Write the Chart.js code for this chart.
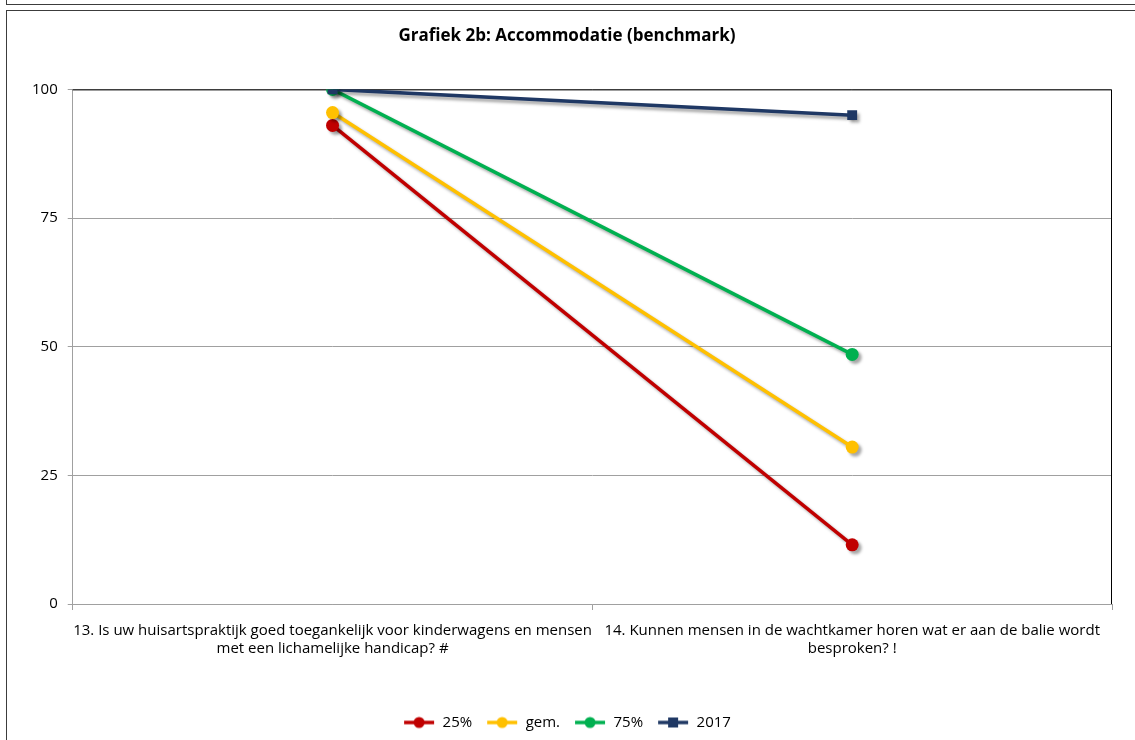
<!DOCTYPE html>
<html>
<head>
<meta charset="utf-8">
<script src="https://cdn.jsdelivr.net/npm/chart.js@4"></script>
<style>
  html, body { margin: 0; padding: 0; background: #fff; }
  #wrap { position: relative; width: 1135px; height: 740px; overflow: hidden; }
  .prev { position: absolute; left: 6px; top: -10px; width: 1200px; height: 14px; border: 1px solid #3c3c3c; border-top: none; }
  .frame { position: absolute; left: 6px; top: 10px; width: 1200px; height: 800px; border: 1px solid #3c3c3c; }
  canvas { position: absolute; left: 0; top: 0; }
</style>
</head>
<body>
<div id="wrap">
  <div class="prev"></div>
  <div class="frame"></div>
  <canvas id="chart" width="1135" height="740"></canvas>
</div>
<script>
const categories = [
    ["13. Is uw huisartspraktijk goed toegankelijk voor kinderwagens en mensen", "met een lichamelijke handicap? #"],
    ["14. Kunnen mensen in de wachtkamer horen wat er aan de balie wordt", "besproken? !"]
];
const p25 = [93, 11.5];
const gem = [95.5, 30.5];
const p75 = [100, 48.5];
const y2017 = [100, 95];
const yTicks = [0, 25, 50, 75, 100];

const font = "'Open Sans', sans-serif";

// legend marker: a short line with the point on it
function legendIcon(color, style) {
    const c = document.createElement('canvas');
    c.width = 32; c.height = 14;
    const g = c.getContext('2d');
    g.strokeStyle = color;
    g.lineWidth = 3.5;
    g.beginPath();
    g.moveTo(1, 7); g.lineTo(31, 7);
    g.stroke();
    g.fillStyle = color;
    if (style === 'rect') {
        g.fillRect(11, 2, 10, 10);
    } else {
        g.beginPath();
        g.arc(16, 7, 5.5, 0, Math.PI * 2);
        g.fill();
    }
    return c;
}

function series(label, data, color, style, order) {
    return {
        label: label,
        data: data,
        borderColor: color,
        backgroundColor: color,
        borderWidth: 3.5,
        pointStyle: style,
        pointRadius: style === 'rect' ? 7 : 6.5,
        pointBorderWidth: 0,
        order: order,
        icon: legendIcon(color, style)
    };
}

const shadow = {
    id: 'shadow',
    beforeDatasetsDraw(chart) {
        const ctx = chart.ctx;
        ctx.save();
        ctx.shadowColor = 'rgba(0,0,0,0.35)';
        ctx.shadowBlur = 3;
        ctx.shadowOffsetX = 3;
        ctx.shadowOffsetY = 3;
    },
    afterDatasetsDraw(chart) {
        chart.ctx.restore();
    }
};

const plotBorder = {
    id: 'plotBorder',
    beforeDatasetsDraw(chart) {
        const a = chart.chartArea;
        const ctx = chart.ctx;
        ctx.save();
        ctx.strokeStyle = '#000';
        ctx.lineWidth = 1;
        ctx.beginPath();
        ctx.moveTo(a.left, a.top + 0.5);
        ctx.lineTo(a.right - 0.5, a.top + 0.5);
        ctx.lineTo(a.right - 0.5, a.bottom);
        ctx.stroke();
        ctx.restore();
    }
};

new Chart(document.getElementById('chart'), {
    type: 'line',
    data: {
        labels: categories,
        datasets: [
            series('25%', p25, '#C00000', 'circle', 4),
            series('gem.', gem, '#FFC000', 'circle', 3),
            series('75%', p75, '#00B050', 'circle', 2),
            series('2017', y2017, '#1F3864', 'rect', 1)
        ]
    },
    options: {
        responsive: false,
        animation: false,
        layout: { padding: { left: 22, right: 23, top: 0, bottom: 0 } },
        scales: {
            x: {
                offset: true,
                grid: { drawOnChartArea: false, drawTicks: true, tickLength: 6, color: '#a0a0a0', offset: true },
                border: { color: '#a0a0a0' },
                ticks: { color: '#000', font: { family: font, size: 15, lineHeight: 1.2 }, padding: 12, maxRotation: 0, autoSkip: false },
                afterFit(axis) { axis.height += 31; }
            },
            y: {
                min: 0,
                max: 100,
                afterBuildTicks(axis) { axis.ticks = yTicks.map(v => ({ value: v })); },
                grid: { color: '#a0a0a0', tickLength: 5 },
                border: { color: '#a0a0a0' },
                ticks: { color: '#000', font: { family: font, size: 15 }, padding: 10 }
            }
        },
        plugins: {
            title: {
                display: true,
                text: 'Grafiek 2b: Accommodatie (benchmark)',
                color: '#000',
                font: { family: font, size: 17, weight: 'bold' },
                padding: { top: 26, bottom: 43 }
            },
            legend: {
                position: 'bottom',
                labels: {
                    color: '#000',
                    font: { family: font, size: 15 },
                    usePointStyle: true,
                    pointStyleWidth: 32,
                    boxHeight: 14,
                    padding: 14,
                    generateLabels(chart) {
                        return chart.data.datasets.map((d, i) => ({
                            text: d.label,
                            pointStyle: d.icon,
                            fontColor: '#000',
                            strokeStyle: d.borderColor,
                            fillStyle: d.borderColor,
                            lineWidth: 0,
                            datasetIndex: i,
                            hidden: false
                        }));
                    }
                }
            },
            tooltip: { enabled: false }
        }
    },
    plugins: [plotBorder, shadow]
});
</script>
</body>
</html>
